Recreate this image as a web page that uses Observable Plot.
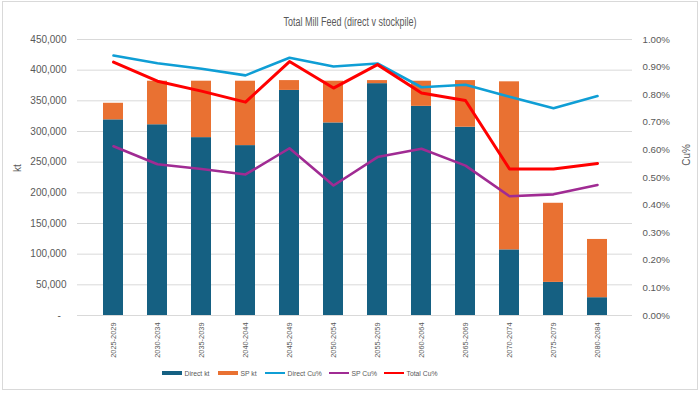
<!DOCTYPE html>
<html><head><meta charset="utf-8">
<script src="https://cdn.jsdelivr.net/npm/d3@7"></script>
<script src="https://cdn.jsdelivr.net/npm/@observablehq/plot@0.6"></script>
<style>
html,body{margin:0;padding:0;background:#fff;}
#wrap{position:relative;width:700px;height:393px;overflow:hidden;font-family:"Liberation Sans",Arial,sans-serif;color:#595959;}
#frame{position:absolute;left:2px;top:1px;width:696px;height:389px;border:1px solid #d9d9d9;box-sizing:border-box;}
#title{position:absolute;left:0;width:700px;top:15px;text-align:center;font-size:12.5px;font-family:"Liberation Sans",Arial,sans-serif;color:#595959;transform:scaleX(0.72);transform-origin:center;}
#chart{position:absolute;left:0;top:0;}
.ytitle{position:absolute;font-size:10px;color:#595959;white-space:nowrap;transform:translate(-50%,-50%) rotate(-90deg);}
#legend{position:absolute;left:0;top:367px;width:700px;height:12px;font-size:6.8px;font-family:"Liberation Sans",Arial,sans-serif;color:#595959;}
#legend .item{position:absolute;top:0;height:12px;display:flex;align-items:center;white-space:nowrap;}
#legend .sw{width:20px;margin-right:2.5px;}
</style>
</head><body>
<div id="wrap">
  <div id="frame"></div>
  <div id="chart"></div>
  <div id="title">Total Mill Feed (direct v stockpile)</div>
  <div class="ytitle" style="left:17px;top:168px;">kt</div>
  <div class="ytitle" style="left:686px;top:155px;">Cu%</div>
  <div id="legend"></div>
</div>
<script>
const categories = ["2025-2029","2030-2034","2035-2039","2040-2044","2045-2049","2050-2054","2055-2059","2060-2064","2065-2069","2070-2074","2075-2079","2080-2084"];
const directKt = [319000, 311000, 290000, 277000, 367000, 314000, 378000, 341000, 307000, 107000, 54000, 29000];
const spKt     = [27000, 71000, 92000, 105000, 16000, 68000, 5000, 41000, 76000, 274000, 129000, 95000];
const directCu = [0.942, 0.914, 0.894, 0.870, 0.934, 0.902, 0.913, 0.827, 0.836, 0.793, 0.751, 0.795];
const spCu     = [0.613, 0.548, 0.531, 0.511, 0.606, 0.471, 0.574, 0.604, 0.543, 0.432, 0.439, 0.473];
const totalCu  = [0.918, 0.849, 0.813, 0.773, 0.920, 0.824, 0.909, 0.806, 0.779, 0.531, 0.531, 0.551];
const leftTicks  = [0, 50000, 100000, 150000, 200000, 250000, 300000, 350000, 400000, 450000];
const rightTicks = [0, 0.1, 0.2, 0.3, 0.4, 0.5, 0.6, 0.7, 0.8, 0.9, 1.0];
const seriesNames = ["Direct kt","SP kt","Direct Cu%","SP Cu%","Total Cu%"];
const seriesColors = ["#156082","#E97132","#0F9ED5","#A02B93","#FF0000"];

const KT_MAX = 450000, PCT_MAX = 1.0;
const toKt = p => p / PCT_MAX * KT_MAX;

const bars = categories.flatMap((c,i)=>[
  {cat:c, series:"Direct kt", value:directKt[i]},
  {cat:c, series:"SP kt", value:spKt[i]}
]);
const lineData = (arr) => arr.map((v,i)=>({cat:categories[i], pct:v}));

const font = '"Liberation Sans", Arial, sans-serif';

const chart = Plot.plot({
  width:700, height:393,
  marginTop:39, marginBottom:78, marginLeft:77, marginRight:68,
  style:{fontFamily:font, color:"#595959", background:"transparent", overflow:"visible"},
  x:{domain:categories, padding:0.55, axis:null},
  y:{domain:[0,KT_MAX], axis:null},
  color:{domain:seriesNames, range:seriesColors},
  marks:[
    Plot.gridY(leftTicks, {stroke:"#d9d9d9", strokeOpacity:1, strokeWidth:1}),
    Plot.barY(bars, {x:"cat", y:"value", fill:"series"}),
    Plot.line(lineData(directCu), {x:"cat", y:d=>toKt(d.pct), stroke:seriesColors[2], strokeWidth:2.6}),
    Plot.line(lineData(spCu), {x:"cat", y:d=>toKt(d.pct), stroke:seriesColors[3], strokeWidth:2.6}),
    Plot.line(lineData(totalCu), {x:"cat", y:d=>toKt(d.pct), stroke:seriesColors[4], strokeWidth:3}),
    Plot.axisY(leftTicks, {anchor:"left", tickSize:0, tickPadding:11, fontSize:10, fill:"#595959", label:null,
      tickFormat:d=> d===0 ? "-\u00a0\u00a0" : d3.format(",")(d)}),
    Plot.axisY(rightTicks.map(toKt), {anchor:"right", tickSize:0, tickPadding:10, fontSize:9.7, fill:"#595959", label:null,
      tickFormat:d=> (d/KT_MAX*PCT_MAX*1).toFixed(2)+"%"}),
    Plot.axisX({anchor:"bottom", tickSize:0, tickPadding:7, tickRotate:-90, fontSize:7.4, fill:"#595959", label:null})
  ]
});
document.getElementById("chart").appendChild(chart);

const legendLefts = [162, 218, 265, 329, 384];
const legend = document.getElementById("legend");
seriesNames.forEach((name,i)=>{
  const item = document.createElement("div");
  item.className = "item";
  item.style.left = legendLefts[i] + "px";
  const sw = document.createElement("div");
  sw.className = "sw";
  sw.style.height = i < 2 ? "4px" : "2.5px";
  sw.style.background = seriesColors[i];
  const t = document.createElement("span");
  t.textContent = name;
  item.appendChild(sw); item.appendChild(t);
  legend.appendChild(item);
});
</script>
</body></html>
